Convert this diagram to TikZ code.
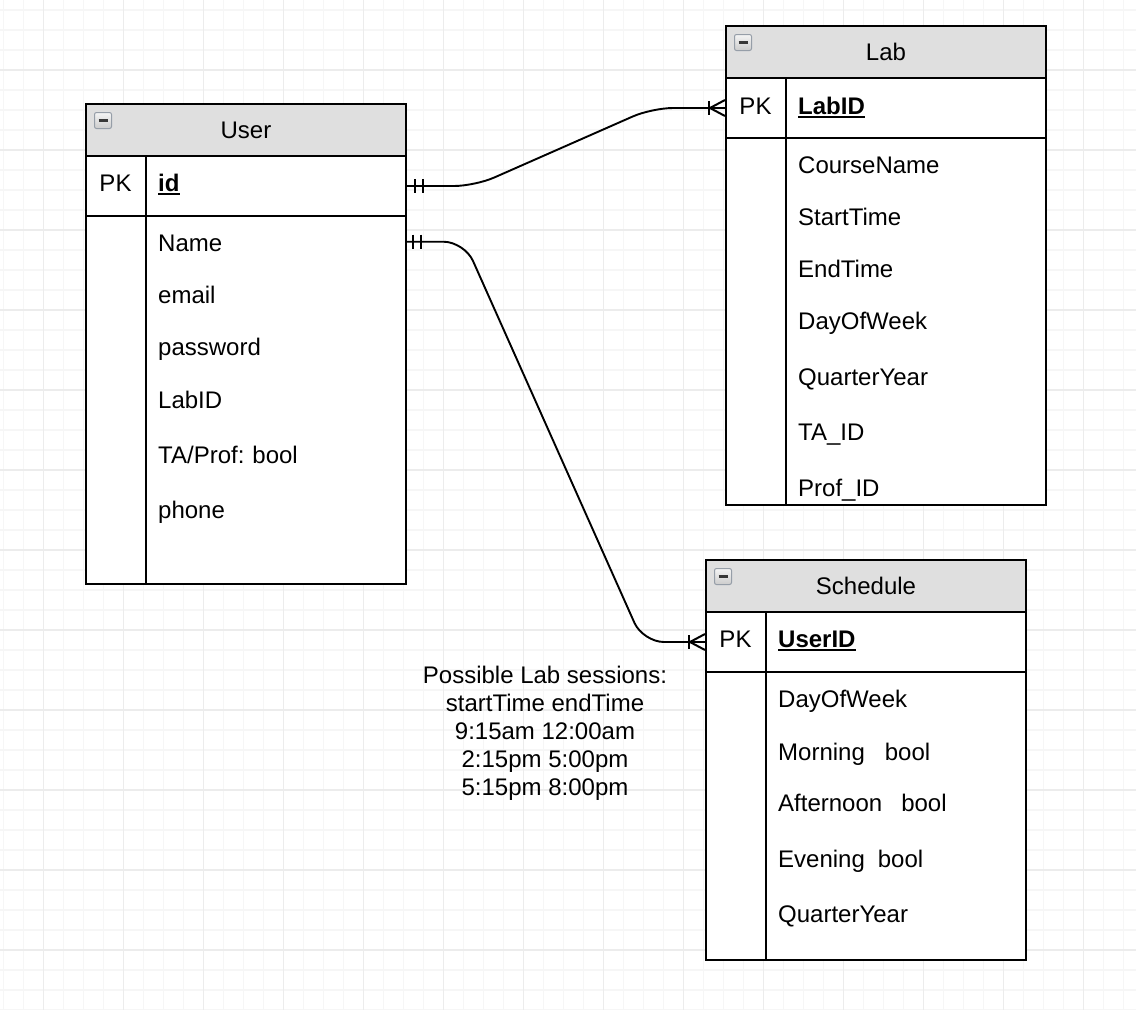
\documentclass[tikz,border=0pt]{standalone}
\usepackage{fontspec}
\setmainfont{Liberation Sans}
\usetikzlibrary{calc}
\frenchspacing

\definecolor{headfill}{RGB}{223,223,223}
\definecolor{gridminor}{RGB}{246,246,246}
\definecolor{gridmajor}{RGB}{236,236,236}
\definecolor{iconedge}{RGB}{150,158,168}

% bold key field with a heavy underline
\newcommand\keyfield[1]{{\bfseries\setbox0=\hbox{#1}\rlap{\rule[-3pt]{\wd0}{2pt}}\box0}}

\begin{document}
\begin{tikzpicture}[x=1pt,y=-1pt,
  every node/.style={font=\fontsize{24}{28}\selectfont},
  minorline/.style={draw=gridminor, line width=1.3pt},
  majorline/.style={draw=gridmajor, line width=1.3pt},
  tabhead/.style={draw, line width=2pt, fill=headfill, minimum width=320pt,
    minimum height=52pt, anchor=north west, inner sep=0pt},
  tabrow/.style={draw, line width=2pt, fill=white, minimum width=320pt,
    anchor=north west, inner sep=0pt},
  divider/.style={line width=2pt},
  pklabel/.style={anchor=base, inner sep=0pt},
  field/.style={anchor=base west, inner xsep=12pt, inner ysep=0pt,
    text width=235pt, align=left, text height=21pt, text depth=1pt},
  iconbox/.style={minimum width=17pt, minimum height=16pt, inner sep=0pt,
    anchor=north west, rounded corners=2pt, draw=iconedge, line width=1pt,
    top color=gray!8, bottom color=gray!40,
    path picture={\draw[line width=2.6pt, black!78]
      ($(path picture bounding box.west)+(4,0)$) --
      ($(path picture bounding box.east)+(-4,0)$);}},
  conn/.style={line width=1.9pt, rounded corners=21pt},
  endmark/.style={line width=2pt},
  note/.style={align=center, inner sep=0pt}]

\useasboundingbox (0,0) rectangle (1136,1010);

% background grid
\foreach \i in {0,...,56} \draw[minorline] ({3.5+20*\i},0) -- ({3.5+20*\i},1010);
\foreach \j in {0,...,50} \draw[minorline] (0,{10+20*\j}) -- (1136,{10+20*\j});
\foreach \i in {0,...,13} \draw[majorline] ({43.5+80*\i},0) -- ({43.5+80*\i},1010);
\foreach \j in {0,...,12} \draw[majorline] (0,{70+80*\j}) -- (1136,{70+80*\j});

% ---------------- User ----------------
\node[tabhead] (user-head) at (85,103) {User};
\node[tabrow, minimum height=60pt] (user-pk) at (85,155) {};
\node[tabrow, minimum height=368pt] (user-body) at (85,215) {};
\draw[divider] ($(user-pk.north west)+(61,0)$) -- ($(user-body.south west)+(61,0)$);
\node[iconbox] (user-icon) at ($(user-head.north west)+(9,9)$) {};
\node[pklabel] (user-pklabel) at (115.5,191.7) {PK};
\node[field] (user-id) at (146,191.7) {\keyfield{id}};
\node[field] (user-name) at (146,251.7) {Name};
\node[field] (user-email) at (146,303) {email};
\node[field] (user-password) at (146,355) {password};
\node[field] (user-labid) at (146,408) {LabID};
\node[field] (user-ta) at (146,463) {TA/Prof: bool};
\node[field] (user-phone) at (146,518) {phone};

% ---------------- Lab ----------------
\node[tabhead] (lab-head) at (725,25) {Lab};
\node[tabrow, minimum height=60pt] (lab-pk) at (725,77) {};
\node[tabrow, minimum height=367pt] (lab-body) at (725,137) {};
\draw[divider] ($(lab-pk.north west)+(61,0)$) -- ($(lab-body.south west)+(61,0)$);
\node[iconbox] (lab-icon) at ($(lab-head.north west)+(9,9)$) {};
\node[pklabel] (lab-pklabel) at (755.5,114.5) {PK};
\node[field] (lab-labid) at (786,114.5) {\keyfield{LabID}};
\node[field] (lab-course) at (786,173) {CourseName};
\node[field] (lab-start) at (786,225) {StartTime};
\node[field] (lab-end) at (786,277) {EndTime};
\node[field] (lab-day) at (786,329) {DayOfWeek};
\node[field] (lab-quarter) at (786,385) {QuarterYear};
\node[field] (lab-ta) at (786,440.5) {TA\_ID};
\node[field] (lab-prof) at (786,496.5) {Prof\_ID};

% ---------------- Schedule ----------------
\node[tabhead] (sched-head) at (705,559) {Schedule};
\node[tabrow, minimum height=60pt] (sched-pk) at (705,611) {};
\node[tabrow, minimum height=288pt] (sched-body) at (705,671) {};
\draw[divider] ($(sched-pk.north west)+(61,0)$) -- ($(sched-body.south west)+(61,0)$);
\node[iconbox] (sched-icon) at ($(sched-head.north west)+(9,9)$) {};
\node[pklabel] (sched-pklabel) at (735.5,647.5) {PK};
\node[field] (sched-userid) at (766,647.5) {\keyfield{UserID}};
\node[field] (sched-day) at (766,707) {DayOfWeek};
\node[field] (sched-morning) at (766,760) {Morning\hspace{20pt}bool};
\node[field] (sched-afternoon) at (766,811) {Afternoon\hspace{19pt}bool};
\node[field] (sched-evening) at (766,867) {Evening\hspace{13pt}bool};
\node[field] (sched-quarter) at (766,922) {QuarterYear};

% ---------------- note ----------------
\node[note] (sessions) at (545,733) {Possible Lab sessions:\\startTime endTime\\9:15am 12:00am\\2:15pm 5:00pm\\5:15pm 8:00pm};

% ---------------- relationships ----------------
% User.id (one) -> Lab.LabID (many)
\draw[conn] (user-pk.east) -- ++(68,0) -- ($(lab-pk.west)+(-73,0)$) -- (lab-pk.west);
\draw[endmark] ($(user-pk.east)+(8,-7)$) -- ++(0,14);
\draw[endmark] ($(user-pk.east)+(16,-7)$) -- ++(0,14);
\draw[endmark] ($(lab-pk.west)+(-16,-7)$) -- ++(0,14);
\draw[endmark] ($(lab-pk.west)+(0,-8)$) -- ($(lab-pk.west)+(-15,0)$) -- ($(lab-pk.west)+(0,8)$);

% User.Name (one) -> Schedule.UserID (many)
\draw[conn] (user-name.east) -- ++(59,0) -- ($(sched-pk.west)+(-62,0)$) -- (sched-pk.west);
\draw[endmark] ($(user-name.east)+(8,-7)$) -- ++(0,14);
\draw[endmark] ($(user-name.east)+(16,-7)$) -- ++(0,14);
\draw[endmark] ($(sched-pk.west)+(-16,-7)$) -- ++(0,14);
\draw[endmark] ($(sched-pk.west)+(0,-8)$) -- ($(sched-pk.west)+(-15,0)$) -- ($(sched-pk.west)+(0,8)$);

\end{tikzpicture}
\end{document}
